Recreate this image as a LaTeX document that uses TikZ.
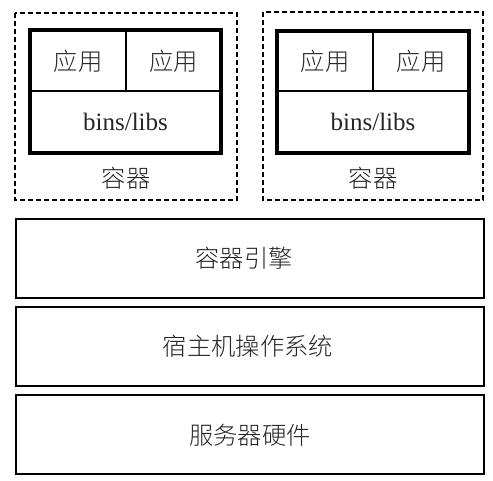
\documentclass[tikz,border=0pt]{standalone}
\usepackage{fontspec}
\setmainfont{Liberation Serif}
\newfontfamily\cjk{Noto Sans CJK SC Light}
\begin{document}
\begin{tikzpicture}[x=1pt,y=-1pt,
  lbl/.style={font=\cjk\fontsize{24.3}{28}\selectfont, text=black!85},
  lat/.style={font=\fontsize{25}{29}\selectfont, text=black!85},
  dashbox/.style={draw, line width=1.5pt, dash pattern=on 5pt off 3pt},
  thickbox/.style={draw, line width=4pt},
  divline/.style={line width=2pt},
  layer/.style={draw, line width=2pt}]
\useasboundingbox (0,0) rectangle (493,481);
% left container
\draw[dashbox] (15,13) rectangle (237,200);
\draw[thickbox] (30,30) rectangle (221,153);
\draw[divline] (30,91) -- (221,91);
\draw[divline] (126,30) -- (126,91);
\node[lbl] (la1) at (78,61) {应用};
\node[lbl] (la2) at (173.5,61) {应用};
\node[lat] (lb) at (125.5,122) {bins/libs};
\node[lbl] (lc) at (126,178) {容器};
% right container
\draw[dashbox] (263,12) rectangle (483,200);
\draw[thickbox] (277,31) rectangle (469,153);
\draw[divline] (277,91) -- (469,91);
\draw[divline] (373,31) -- (373,91);
\node[lbl] (ra1) at (325,61) {应用};
\node[lbl] (ra2) at (421,61) {应用};
\node[lat] (rb) at (373,122) {bins/libs};
\node[lbl] (rc) at (373,178) {容器};
% layers
\draw[layer] (16,219) rectangle (484,298);
\node[lbl] (eng) at (244,258) {容器引擎};
\draw[layer] (16,307) rectangle (484,386);
\node[lbl] (os) at (248,346) {宿主机操作系统};
\draw[layer] (16,395) rectangle (484,474);
\node[lbl] (hw) at (250,435) {服务器硬件};
\end{tikzpicture}
\end{document}
